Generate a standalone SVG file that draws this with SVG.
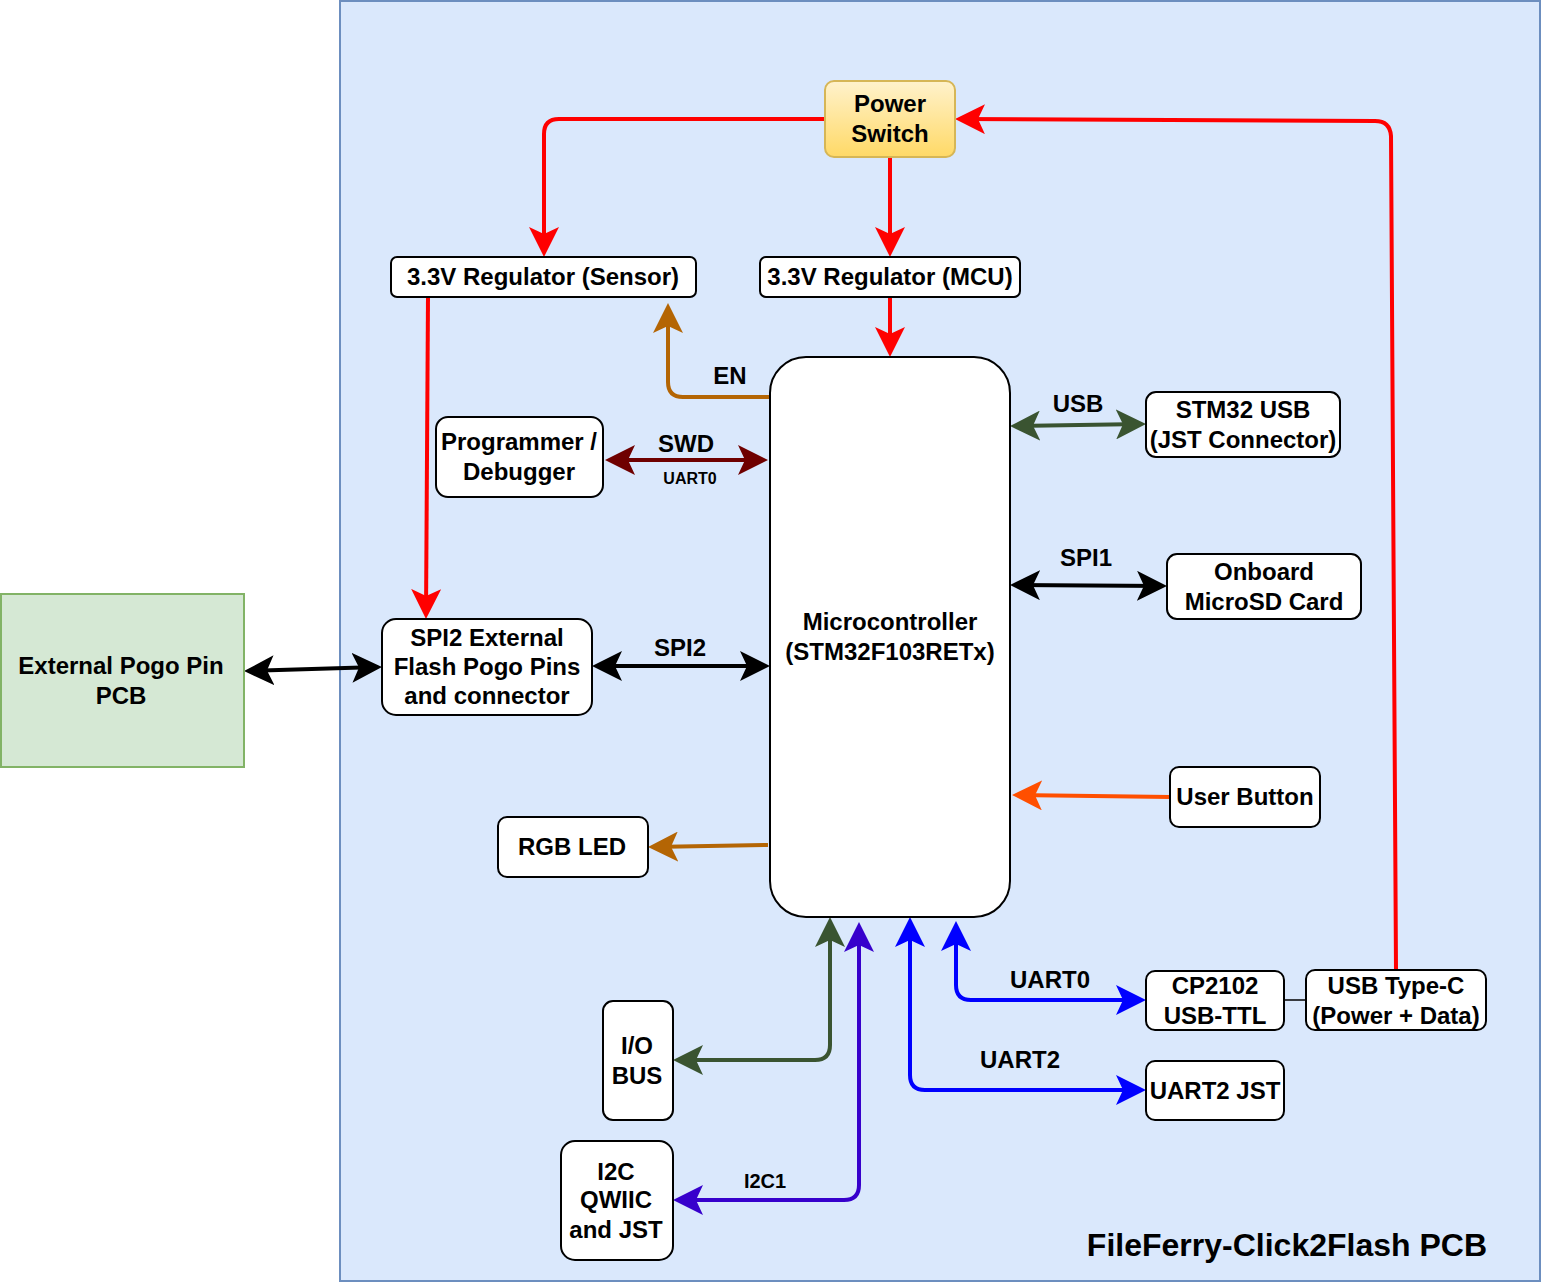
<svg xmlns="http://www.w3.org/2000/svg" width="1542" height="1282" viewBox="0 0 1542 1282">
<defs>
<linearGradient id="gSwitch" x1="0" y1="0" x2="0" y2="1">
<stop offset="0" stop-color="#fff2cc"/>
<stop offset="1" stop-color="#ffd966"/>
</linearGradient>
<marker id="aRed" viewBox="0 0 30 30" refX="26" refY="15" markerWidth="30" markerHeight="30" markerUnits="userSpaceOnUse" orient="auto-start-reverse"><path d="M0,0 L30,15 L0,30 L7,15 Z" fill="#ff0000"/></marker>
<marker id="aOrange" viewBox="0 0 30 30" refX="26" refY="15" markerWidth="30" markerHeight="30" markerUnits="userSpaceOnUse" orient="auto-start-reverse"><path d="M0,0 L30,15 L0,30 L7,15 Z" fill="#b46504"/></marker>
<marker id="aDarkRed" viewBox="0 0 30 30" refX="26" refY="15" markerWidth="30" markerHeight="30" markerUnits="userSpaceOnUse" orient="auto-start-reverse"><path d="M0,0 L30,15 L0,30 L7,15 Z" fill="#6f0000"/></marker>
<marker id="aGreen" viewBox="0 0 30 30" refX="26" refY="15" markerWidth="30" markerHeight="30" markerUnits="userSpaceOnUse" orient="auto-start-reverse"><path d="M0,0 L30,15 L0,30 L7,15 Z" fill="#3a5431"/></marker>
<marker id="aBlack" viewBox="0 0 30 30" refX="26" refY="15" markerWidth="30" markerHeight="30" markerUnits="userSpaceOnUse" orient="auto-start-reverse"><path d="M0,0 L30,15 L0,30 L7,15 Z" fill="#000000"/></marker>
<marker id="aOrangeRed" viewBox="0 0 30 30" refX="26" refY="15" markerWidth="30" markerHeight="30" markerUnits="userSpaceOnUse" orient="auto-start-reverse"><path d="M0,0 L30,15 L0,30 L7,15 Z" fill="#ff4f00"/></marker>
<marker id="aPurple" viewBox="0 0 30 30" refX="26" refY="15" markerWidth="30" markerHeight="30" markerUnits="userSpaceOnUse" orient="auto-start-reverse"><path d="M0,0 L30,15 L0,30 L7,15 Z" fill="#3700cc"/></marker>
<marker id="aBlue" viewBox="0 0 30 30" refX="26" refY="15" markerWidth="30" markerHeight="30" markerUnits="userSpaceOnUse" orient="auto-start-reverse"><path d="M0,0 L30,15 L0,30 L7,15 Z" fill="#0000ff"/></marker>
</defs>
<style>
.node{fill:#ffffff;stroke:#000000;stroke-width:2}
.t{font-family:"Liberation Sans",Arial,Helvetica,sans-serif;font-weight:bold;font-size:24px;fill:#000000;text-anchor:middle}
.lbl{font-family:"Liberation Sans",Arial,Helvetica,sans-serif;font-weight:bold;font-size:24px;fill:#000000;text-anchor:middle}
.small{font-size:16px}
.e{fill:none;stroke-width:4;stroke-linejoin:round}
</style>

<g id="pcb-container">
<rect x="340" y="1" width="1200" height="1280" fill="#dae8fc" stroke="#6c8ebf" stroke-width="2"/>
<text x="1487" y="1256" class="t" style="font-size:32px;text-anchor:end">FileFerry-Click2Flash PCB</text>
</g>

<g id="connectors">
<path class="e" stroke="#ff0000" d="M825,119 L559,119 Q544,119 544,134 L544,253" marker-end="url(#aRed)"/>
<path class="e" stroke="#ff0000" d="M890,157 L890,253" marker-end="url(#aRed)"/>
<path class="e" stroke="#ff0000" d="M890,297 L890,353" marker-end="url(#aRed)"/>
<path class="e" stroke="#ff0000" d="M1396,970 L1391,136 Q1390,121 1375,121 L959,119" marker-end="url(#aRed)"/>
<path class="e" stroke="#ff0000" d="M428,297 L426,615" marker-end="url(#aRed)"/>
<path class="e" stroke="#b46504" d="M770,397 L683,397 Q668,397 668,382 L668,307" marker-end="url(#aOrange)"/>
<path class="e" stroke="#6f0000" d="M609,460 L764,460" marker-start="url(#aDarkRed)" marker-end="url(#aDarkRed)"/>
<path class="e" stroke="#3a5431" d="M1014,426 L1142,424" marker-start="url(#aGreen)" marker-end="url(#aGreen)"/>
<path class="e" stroke="#000000" d="M1014,585 L1163,586" marker-start="url(#aBlack)" marker-end="url(#aBlack)"/>
<path class="e" stroke="#000000" d="M596,666 L766,666" marker-start="url(#aBlack)" marker-end="url(#aBlack)"/>
<path class="e" stroke="#000000" d="M248,671 L378,667" marker-start="url(#aBlack)" marker-end="url(#aBlack)"/>
<path class="e" stroke="#ff4f00" d="M1170,797 L1016,795" marker-end="url(#aOrangeRed)"/>
<path class="e" stroke="#b46504" d="M768,845 L652,847" marker-end="url(#aOrange)"/>
<path class="e" stroke="#3a5431" d="M830,921 L830,1045 Q830,1060 815,1060 L677,1060" marker-start="url(#aGreen)" marker-end="url(#aGreen)"/>
<path class="e" stroke="#3700cc" d="M859,926 L859,1185 Q859,1200 844,1200 L677,1200" marker-start="url(#aPurple)" marker-end="url(#aPurple)"/>
<path class="e" stroke="#0000ff" d="M910,921 L910,1075 Q910,1090 925,1090 L1142,1090" marker-start="url(#aBlue)" marker-end="url(#aBlue)"/>
<path class="e" stroke="#0000ff" d="M956,925 L956,985 Q956,1000 971,1000 L1142,1000" marker-start="url(#aBlue)" marker-end="url(#aBlue)"/>
<path d="M1284,1000 L1306,1000" fill="none" stroke="#000000" stroke-width="1.5"/>
<text x="730" y="384" class="lbl">EN</text>
<text x="686" y="452" class="lbl">SWD</text>
<text x="690" y="484" class="lbl small">UART0</text>
<text x="1078" y="412" class="lbl">USB</text>
<text x="1086" y="566" class="lbl">SPI1</text>
<text x="680" y="656" class="lbl">SPI2</text>
<text x="1050" y="988" class="lbl">UART0</text>
<text x="1020" y="1068" class="lbl">UART2</text>
<text x="765" y="1188" class="lbl" style="font-size:20px">I2C1</text>
</g>

<g id="power-switch">
<rect x="825" y="81" width="130" height="76" rx="9" fill="url(#gSwitch)" stroke="#d6b656" stroke-width="2"/>
<text x="890" y="112" class="t">Power</text>
<text x="890" y="142" class="t">Switch</text>
</g>

<g id="reg-sensor">
<rect class="node" x="391" y="257" width="305" height="40" rx="6"/>
<text x="543" y="285" class="t">3.3V Regulator (Sensor)</text>
</g>

<g id="reg-mcu">
<rect class="node" x="760" y="257" width="260" height="40" rx="6"/>
<text x="890" y="285" class="t">3.3V Regulator (MCU)</text>
</g>

<g id="mcu">
<rect class="node" x="770" y="357" width="240" height="560" rx="36"/>
<text x="890" y="630" class="t">Microcontroller</text>
<text x="890" y="660" class="t">(STM32F103RETx)</text>
</g>

<g id="programmer">
<rect class="node" x="436" y="417" width="167" height="80" rx="12"/>
<text x="519" y="450" class="t">Programmer /</text>
<text x="519" y="480" class="t">Debugger</text>
</g>

<g id="stm32-usb">
<rect class="node" x="1146" y="392" width="194" height="65" rx="10"/>
<text x="1243" y="418" class="t">STM32 USB</text>
<text x="1243" y="448" class="t">(JST Connector)</text>
</g>

<g id="microsd">
<rect class="node" x="1167" y="554" width="194" height="65" rx="10"/>
<text x="1264" y="580" class="t">Onboard</text>
<text x="1264" y="610" class="t">MicroSD Card</text>
</g>

<g id="spi2-flash">
<rect class="node" x="382" y="619" width="210" height="96" rx="14"/>
<text x="487" y="646" class="t">SPI2 External</text>
<text x="487" y="675" class="t">Flash Pogo Pins</text>
<text x="487" y="704" class="t">and connector</text>
</g>

<g id="external-pogo">
<rect x="1" y="594" width="243" height="173" fill="#d5e8d4" stroke="#82b366" stroke-width="2"/>
<text x="121" y="674" class="t">External Pogo Pin</text>
<text x="121" y="704" class="t">PCB</text>
</g>

<g id="user-button">
<rect class="node" x="1170" y="767" width="150" height="60" rx="9"/>
<text x="1245" y="805" class="t">User Button</text>
</g>

<g id="rgb-led">
<rect class="node" x="498" y="817" width="150" height="60" rx="9"/>
<text x="572" y="855" class="t">RGB LED</text>
</g>

<g id="io-bus">
<rect class="node" x="603" y="1001" width="70" height="119" rx="10"/>
<text x="637" y="1054" class="t">I/O</text>
<text x="637" y="1084" class="t">BUS</text>
</g>

<g id="i2c-qwiic">
<rect class="node" x="561" y="1141" width="112" height="119" rx="14"/>
<text x="616" y="1180" class="t">I2C</text>
<text x="616" y="1208" class="t">QWIIC</text>
<text x="616" y="1238" class="t">and JST</text>
</g>

<g id="cp2102">
<rect class="node" x="1146" y="971" width="138" height="59" rx="9"/>
<text x="1215" y="994" class="t">CP2102</text>
<text x="1215" y="1024" class="t">USB-TTL</text>
</g>

<g id="usb-typec">
<rect class="node" x="1306" y="970" width="180" height="60" rx="9"/>
<text x="1396" y="994" class="t">USB Type-C</text>
<text x="1396" y="1024" class="t">(Power + Data)</text>
</g>

<g id="uart2-jst">
<rect class="node" x="1146" y="1061" width="138" height="59" rx="9"/>
<text x="1215" y="1099" class="t">UART2 JST</text>
</g>
</svg>
